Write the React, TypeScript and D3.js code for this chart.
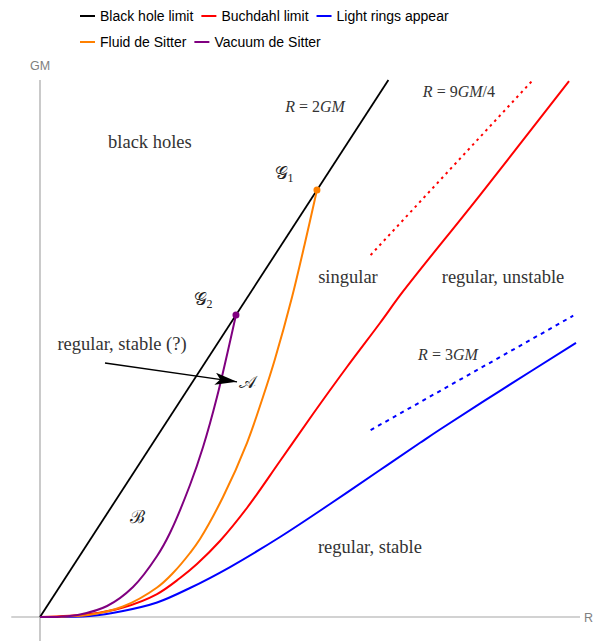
import React, { useEffect, useRef } from 'react';
import * as d3 from 'd3';

const W = 594;
const H = 641;

// R and GM in plot units
const blackR = [0, 2];
const blackGM = [0, 1];

const buchdahlR = [0, 0.287, 0.4765, 0.672, 0.804, 0.901, 1.033, 1.188, 1.378, 1.567, 1.762, 1.952, 2.084, 2.526, 3.037];
const buchdahlGM = [0, 0.0056, 0.0177, 0.0428, 0.0726, 0.0987, 0.1415, 0.203, 0.2905, 0.378, 0.4655, 0.5475, 0.6062, 0.7858, 0.9981];

const ringsR = [0, 0.287, 0.4765, 0.672, 0.861, 1.091, 1.378, 1.665, 1.952, 2.182, 2.296, 2.641, 3.077];
const ringsGM = [0, 0.0019, 0.0112, 0.027, 0.054, 0.0931, 0.149, 0.2104, 0.2737, 0.3244, 0.3492, 0.4212, 0.5104];

const fluidR = [0, 0.1435, 0.287, 0.4765, 0.672, 0.7635, 0.861, 0.9185, 1.0506, 1.188, 1.28, 1.349, 1.447, 1.521, 1.59];
const fluidGM = [0, 0.0009, 0.0043, 0.0196, 0.0549, 0.0819, 0.1192, 0.1453, 0.2235, 0.324, 0.4097, 0.4804, 0.5959, 0.6965, 0.795];

const vacuumR = [0, 0.115, 0.23, 0.385, 0.534, 0.672, 0.746, 0.861, 0.936, 1.016, 1.125];
const vacuumGM = [0, 0.0006, 0.0047, 0.0205, 0.0559, 0.1136, 0.1564, 0.2458, 0.3166, 0.4097, 0.5625];

// asymptote slope guides
const guide94R = [1.898, 2.824];
const guide94GM = [0.674, 0.998];
const guide3R = [1.898, 3.061];
const guide3GM = [0.348, 0.561];

const legendNames = ['Black hole limit', 'Buchdahl limit', 'Light rings appear', 'Fluid de Sitter', 'Vacuum de Sitter'];
const legendColors = ['#000000', '#ff0000', '#0000ff', '#ff8000', '#800080'];
const legendRows = [0, 0, 0, 1, 1];

const regionLabels = [
  { text: 'black holes', R: 0.631, GM: 0.873 },
  { text: 'singular', R: 1.768, GM: 0.622 },
  { text: 'regular, unstable', R: 2.658, GM: 0.622 },
  { text: 'regular, stable (?)', R: 0.471, GM: 0.497 },
  { text: 'regular, stable', R: 1.894, GM: 0.119 },
];

// [text, italic?] pieces
const mathLabels = [
  { parts: [['R', 1], [' = 2', 0], ['GM', 1]], R: 1.579, GM: 0.94 },
  { parts: [['R', 1], [' = 9', 0], ['GM', 1], ['/4', 0]], R: 2.405, GM: 0.968 },
  { parts: [['R', 1], [' = 3', 0], ['GM', 1]], R: 2.342, GM: 0.479 },
];

const pointLabels = [
  { sym: '\u{1D4A2}', sub: '1', R: 1.401, GM: 0.816 },
  { sym: '\u{1D4A2}', sub: '2', R: 0.936, GM: 0.581 },
  { sym: '\u{1D49C}', sub: '', R: 1.194, GM: 0.426 },
  { sym: '\u212C', sub: '', R: 0.557, GM: 0.175 },
];

const endpointsR = [1.59, 1.125];
const endpointsGM = [0.795, 0.5625];
const endpointColors = ['#ff8000', '#800080'];

const arrowR = [0.373, 1.131];
const arrowGM = [0.473, 0.438];

const zip = (a: number[], b: number[]) => a.map((v, i) => [v, b[i]] as [number, number]);

export default function App() {
  const ref = useRef<SVGSVGElement>(null);

  useEffect(() => {
    document.body.style.margin = '0';
    const svg = d3.select(ref.current);
    svg.selectAll('*').remove();

    const x = d3.scaleLinear().domain([0, 3.1]).range([40, 580]);
    const y = d3.scaleLinear().domain([0, 1]).range([617, 80]);

    const serif = '"Liberation Serif", "DejaVu Serif", serif';
    const sans = '"Liberation Sans", Arial, sans-serif';

    // axes
    const axisColor = '#a6a6a6';
    svg.append('line')
      .attr('x1', x(-0.165)).attr('x2', x(3.1))
      .attr('y1', y(0)).attr('y2', y(0))
      .attr('stroke', axisColor).attr('stroke-width', 1.2);
    svg.append('line')
      .attr('x1', x(0)).attr('x2', x(0))
      .attr('y1', y(1)).attr('y2', y(-0.05))
      .attr('stroke', axisColor).attr('stroke-width', 1.2);
    svg.append('text')
      .attr('x', x(0)).attr('y', y(1) - 10)
      .attr('text-anchor', 'middle')
      .attr('font-family', sans).attr('font-size', 12.5)
      .attr('fill', '#808080')
      .text('GM');
    svg.append('text')
      .attr('x', x(3.1) + 4).attr('y', y(0) + 5)
      .attr('font-family', sans).attr('font-size', 12.5)
      .attr('fill', '#808080')
      .text('R');

    const line = d3.line<[number, number]>()
      .x(d => x(d[0]))
      .y(d => y(d[1]))
      .curve(d3.curveCatmullRom.alpha(0.5));

    const curves = [
      { pts: zip(blackR, blackGM), color: '#000000', w: 1.8 },
      { pts: zip(ringsR, ringsGM), color: '#0000ff', w: 2 },
      { pts: zip(buchdahlR, buchdahlGM), color: '#ff0000', w: 2 },
      { pts: zip(fluidR, fluidGM), color: '#ff8000', w: 2 },
      { pts: zip(vacuumR, vacuumGM), color: '#800080', w: 2 },
    ];
    curves.forEach(c => {
      svg.append('path')
        .datum(c.pts)
        .attr('d', line)
        .attr('fill', 'none')
        .attr('stroke', c.color)
        .attr('stroke-width', c.w);
    });

    const straight = d3.line<[number, number]>().x(d => x(d[0])).y(d => y(d[1]));
    svg.append('path')
      .datum(zip(guide94R, guide94GM))
      .attr('d', straight)
      .attr('stroke', '#ff0000').attr('stroke-width', 2)
      .attr('stroke-dasharray', '2.5,4').attr('fill', 'none');
    svg.append('path')
      .datum(zip(guide3R, guide3GM))
      .attr('d', straight)
      .attr('stroke', '#0000ff').attr('stroke-width', 2)
      .attr('stroke-dasharray', '4,4.5').attr('fill', 'none');

    svg.selectAll('.endpoint')
      .data(zip(endpointsR, endpointsGM))
      .enter().append('circle')
      .attr('cx', d => x(d[0]))
      .attr('cy', d => y(d[1]))
      .attr('r', 3.5)
      .attr('fill', (d, i) => endpointColors[i]);

    // arrow
    const defs = svg.append('defs');
    defs.append('marker')
      .attr('id', 'head')
      .attr('viewBox', '0 0 22 12')
      .attr('refX', 22).attr('refY', 6)
      .attr('markerWidth', 22).attr('markerHeight', 12)
      .attr('markerUnits', 'userSpaceOnUse')
      .attr('orient', 'auto')
      .append('path')
      .attr('d', 'M0,0 L22,6 L0,12 L5,6 Z')
      .attr('fill', '#000');
    svg.append('line')
      .attr('x1', x(arrowR[0])).attr('y1', y(arrowGM[0]))
      .attr('x2', x(arrowR[1])).attr('y2', y(arrowGM[1]))
      .attr('stroke', '#000').attr('stroke-width', 1.3)
      .attr('marker-end', 'url(#head)');

    // region labels
    regionLabels.forEach(l => {
      svg.append('text')
        .attr('x', x(l.R)).attr('y', y(l.GM))
        .attr('text-anchor', 'middle')
        .attr('font-family', serif).attr('font-size', 18.5)
        .attr('fill', '#333')
        .text(l.text);
    });

    mathLabels.forEach(l => {
      const t = svg.append('text')
        .attr('x', x(l.R)).attr('y', y(l.GM))
        .attr('text-anchor', 'middle')
        .attr('font-family', serif).attr('font-size', 16)
        .attr('fill', '#333')
        .attr('xml:space', 'preserve');
      l.parts.forEach(p => {
        t.append('tspan')
          .attr('font-style', p[1] ? 'italic' : 'normal')
          .text(p[0] as string);
      });
    });

    pointLabels.forEach(l => {
      const t = svg.append('text')
        .attr('x', x(l.R)).attr('y', y(l.GM))
        .attr('text-anchor', 'middle')
        .attr('font-family', serif).attr('font-size', 18)
        .attr('fill', '#222');
      t.append('tspan').text(l.sym);
      if (l.sub) {
        t.append('tspan').attr('font-size', 12).attr('dy', 3).text(l.sub);
      }
    });

    // legend
    const rowY = [16, 42];
    const rowX = [80, 80];
    legendNames.forEach((name, i) => {
      const r = legendRows[i];
      const x0 = rowX[r];
      svg.append('line')
        .attr('x1', x0).attr('x2', x0 + 15)
        .attr('y1', rowY[r]).attr('y2', rowY[r])
        .attr('stroke', legendColors[i]).attr('stroke-width', 2);
      const t = svg.append('text')
        .attr('x', x0 + 20).attr('y', rowY[r] + 5)
        .attr('font-family', sans).attr('font-size', 14)
        .attr('fill', '#000')
        .text(name);
      const len = (t.node() as SVGTextElement).getComputedTextLength();
      rowX[r] = x0 + 20 + len + 8;
    });
  }, []);

  return <svg ref={ref} width={W} height={H} style={{ display: 'block' }} />;
}
